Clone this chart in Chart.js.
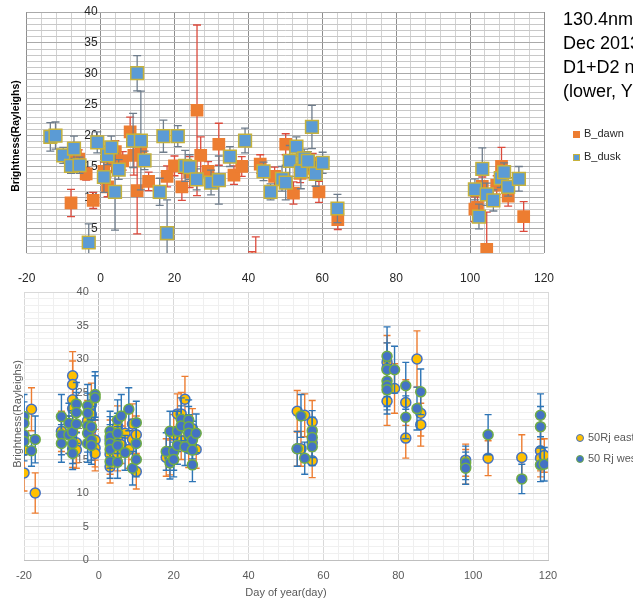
<!DOCTYPE html>
<html>
<head>
<meta charset="utf-8">
<script src="https://cdn.jsdelivr.net/npm/chart.js@4.4.1/dist/chart.umd.min.js"></script>
<style>
  html, body { margin: 0; padding: 0; background: #fff; }
  body { width: 633px; height: 601px; position: relative; overflow: hidden; font-family: "Liberation Sans", Arial, sans-serif; }
  canvas { position: absolute; left: 0; }
  #topChart { top: 0; }
  #bottomChart { top: 280px; }
  .ytitle { position: absolute; transform: translate(-50%, -50%) rotate(-90deg); white-space: nowrap; z-index: 2; }
  #note { position: absolute; left: 563px; top: 7px; font-size: 18px; line-height: 24px; color: #000; white-space: nowrap; z-index: 2; }
  .leg { position: absolute; font-size: 11px; line-height: 13px; white-space: nowrap; z-index: 2; }
  .leg i { display: inline-block; vertical-align: -1px; margin-right: 4px; box-sizing: border-box; }
</style>
</head>
<body>
<canvas id="topChart" width="633" height="290"></canvas>
<canvas id="bottomChart" width="633" height="321"></canvas>

<div class="ytitle" style="left:15px; top:136px; font-size:10.5px; font-weight:bold; color:#000;">Brightness(Rayleighs)</div>
<div class="ytitle" style="left:17px; top:414px; font-size:11px; color:#595959;">Brightness(Rayleighs)</div>

<div id="note">130.4nm<br>Dec 2013<br>D1+D2 n<br>(lower, Y</div>

<div class="leg" style="left:573px; top:127px; color:#262626;"><i style="width:7px;height:7px;background:#ed7d31;"></i>B_dawn</div>
<div class="leg" style="left:573px; top:150px; color:#262626;"><i style="width:7px;height:7px;background:#5b9bd5;border:1px solid #c6b23c;"></i>B_dusk</div>

<div class="leg" style="left:576px; top:431px; color:#595959;"><i style="width:8px;height:8px;border-radius:50%;background:#ffc000;border:1px solid #4472c4;"></i>50Rj east</div>
<div class="leg" style="left:576px; top:452px; color:#595959;"><i style="width:8px;height:8px;border-radius:50%;background:#4472c4;border:1px solid #70ad47;"></i>50 Rj west</div>

<script>
// ---- upper panel: B_dawn / B_dusk (day, brightness, +/- error) ----
const dawnDay = [-8.0, -6.8, -5.9, -3.9, -2.0, 0.9, 1.9, 3.0, 4.0, 6.0, 8.0, 9.0, 9.9, 10.9, 13.0,
  18.0, 20.0, 22.0, 24.1, 26.1, 27.1, 29.1, 32.0, 36.1, 38.2, 41.0, 42.0, 43.2, 47.1, 50.1,
  52.2, 54.0, 55.4, 57.4, 59.1, 64.2, 101.3, 102.0, 103.3, 104.5, 107.2, 108.5, 110.3, 114.5];
const dawnVal = [9.1, 16.8, 16.2, 13.8, 9.5, 14.2, 11.7, 16.0, 17.4, 15.9, 20.6, 16.8, 11.1, 18.2, 12.6,
  13.4, 15.1, 11.7, 14.1, 24.1, 16.8, 14.2, 18.6, 13.6, 15.0, -1.0, 0.0, 15.4, 13.4, 18.6,
  10.7, 13.9, 14.7, 15.5, 10.9, 6.4, 8.1, 8.4, 11.8, 1.6, 12.0, 15.0, 10.2, 6.9];
const dawnErr = [2.2, 1.5, 1.5, 1.0, 1.3, 1.5, 1.6, 2.0, 1.8, 1.5, 2.4, 3.2, 7.0, 1.2, 1.5,
  1.7, 1.6, 2.2, 2.5, 13.8, 3.0, 1.6, 3.4, 1.5, 1.6, 2.2, 3.6, 1.5, 1.5, 1.7,
  1.8, 1.5, 1.5, 1.6, 1.7, 1.6, 2.0, 2.0, 1.5, 6.0, 1.5, 3.1, 1.6, 2.4];

const duskDay = [-13.6, -12.2, -10.1, -8.0, -7.2, -5.7, -3.2, -0.9, 0.9, 1.9, 2.9, 3.9, 4.9, 8.8, 9.9,
  10.9, 11.9, 16.0, 17.0, 18.0, 20.9, 22.9, 24.1, 26.0, 29.9, 32.0, 35.0, 39.1, 44.1, 46.0,
  49.1, 50.1, 51.2, 53.0, 54.2, 55.1, 56.1, 57.2, 58.2, 60.1, 64.1,
  101.3, 102.4, 103.3, 104.5, 106.3, 108.3, 109.2, 110.3, 113.2];
const duskVal = [19.8, 20.0, 16.8, 15.1, 17.9, 15.2, 2.7, 18.9, 13.3, 16.8, 18.1, 10.9, 14.5, 19.2, 30.1,
  19.2, 16.0, 10.9, 19.9, 4.2, 19.9, 15.1, 14.9, 12.9, 12.4, 12.8, 16.6, 19.2, 14.2, 10.9,
  13.0, 12.4, 15.9, 18.2, 14.2, 16.3, 15.9, 21.4, 13.8, 15.6, 8.2,
  11.3, 6.9, 14.6, 10.5, 9.5, 13.1, 14.1, 11.7, 13.0];
const duskErr = [2.3, 2.2, 1.3, 1.2, 2.0, 1.3, 3.0, 1.7, 2.5, 1.5, 1.8, 6.2, 1.6, 4.4, 2.85,
  8.0, 1.5, 2.2, 2.6, 5.4, 1.7, 2.5, 2.0, 1.7, 2.0, 3.9, 1.6, 2.0, 1.5, 1.3,
  2.0, 2.8, 2.5, 1.6, 2.8, 1.5, 1.5, 3.5, 2.0, 1.7, 2.3,
  1.7, 2.0, 3.4, 1.8, 1.7, 1.5, 1.5, 1.5, 2.0];

// ---- lower panel: 50 Rj east / west ----
const eastDay = [-20, -20, -18, -17, -10, -8, -7, -7, -7, -7, -7, -7, -6, -6, -3, -2, -2, -2, -1, -1, -1,
  3, 3, 3, 5, 5, 5, 6, 7, 8, 9, 9, 10, 10, 18, 19, 20, 21, 22, 22, 23, 24, 25, 26,
  53, 53, 54, 55, 57, 57, 57, 77, 77, 77, 79, 82, 82, 85, 86, 86, 98, 98, 104, 113, 118, 118, 119];
const eastVal = [16.4, 13.0, 22.5, 10.0, 19.2, 18.7, 27.5, 26.2, 23.9, 22.6, 20.0, 16.6, 17.5, 16.4, 20.8, 23.2, 21.7, 19.6, 17.9, 16.7, 15.9,
  17.9, 15.8, 13.9, 20.0, 17.9, 15.9, 17.2, 18.9, 16.5, 18.0, 20.3, 18.7, 13.2, 15.3, 15.3, 18.7, 21.8, 21.8, 17.8, 24.0, 16.6, 19.6, 16.5,
  22.2, 16.6, 16.6, 21.6, 20.6, 17.5, 14.8, 29.5, 28.6, 23.7, 25.6, 23.5, 18.2, 30.0, 21.9, 20.2, 13.9, 14.9, 15.2, 15.3, 16.3, 15.2, 15.6];
const eastErr = [3.5, 2.7, 3.2, 3.0, 3.0, 2.8, 3.6, 3.5, 3.2, 3.0, 3.0, 2.8, 3.0, 2.7, 3.0, 3.2, 3.0, 2.8, 3.0, 2.8, 2.6,
  3.0, 3.0, 2.4, 3.0, 2.8, 2.6, 2.8, 3.0, 2.8, 3.0, 3.0, 2.8, 2.6, 2.8, 2.6, 3.0, 3.0, 3.2, 2.8, 3.4, 2.8, 3.0, 2.8,
  3.1, 2.6, 2.6, 3.2, 3.2, 3.0, 2.5, 4.0, 3.8, 3.6, 3.7, 3.4, 3.0, 4.2, 3.4, 3.2, 2.6, 2.4, 2.6, 3.4, 3.0, 2.8, 2.5];

const westDay = [-20, -20, -20, -20, -18, -17, -10, -10, -10, -8, -8, -7, -7, -7, -6, -6, -6,
  -3, -3, -3, -3, -3, -2, -2, -2, -1, -1, 3, 3, 3, 3, 3, 5, 5, 5, 5, 6, 7, 8, 9, 10, 10, 10,
  18, 19, 19, 20, 20, 21, 21, 22, 22, 23, 24, 24, 24, 25, 25, 25, 26,
  53, 54, 55, 57, 57, 57, 77, 77, 77, 77, 77, 79, 82, 82, 85, 86, 98, 98, 104, 113, 118, 118, 118, 119];
const westVal = [21.4, 20.4, 18.7, 17.7, 16.3, 18.0, 21.4, 18.7, 17.4, 20.4, 18.7, 19.1, 17.4, 15.9, 23.3, 22.0, 20.3,
  23.0, 21.9, 20.0, 18.9, 17.4, 19.9, 17.9, 17.1, 24.7, 24.2, 19.2, 18.4, 17.4, 16.5, 14.7, 20.9, 18.9, 17.1, 14.6, 21.5, 16.0, 22.5, 13.7, 20.5, 17.4, 15.0,
  16.2, 19.2, 14.5, 16.2, 15.0, 19.2, 17.1, 21.0, 20.0, 16.9, 20.9, 19.9, 18.9, 17.9, 16.4, 14.2, 18.9,
  16.6, 21.5, 15.2, 19.3, 18.3, 16.9, 30.4, 28.4, 26.7, 26.0, 25.4, 28.4, 26.0, 21.3, 22.6, 25.1, 14.5, 13.7, 18.7, 12.1, 21.6, 19.9, 14.2, 14.3];
const westErr = [3.3, 3.2, 3.0, 2.9, 2.3, 3.5, 3.3, 3.0, 2.8, 3.0, 2.8, 3.2, 3.0, 2.4, 3.2, 3.0, 2.9,
  3.2, 3.0, 3.0, 2.8, 2.8, 3.0, 3.0, 2.8, 3.4, 3.3, 3.0, 3.0, 2.8, 2.8, 2.5, 3.0, 3.0, 2.8, 2.4, 3.2, 2.6, 3.2, 2.5, 3.2, 2.8, 2.6,
  2.8, 3.0, 2.4, 2.8, 2.6, 3.0, 2.8, 3.2, 3.0, 2.8, 3.0, 3.0, 2.8, 2.8, 2.8, 2.5, 2.9,
  2.6, 3.2, 2.4, 3.0, 3.0, 2.8, 4.4, 4.0, 3.8, 3.6, 3.6, 3.5, 3.5, 3.2, 3.2, 3.4, 2.5, 2.4, 3.0, 2.2, 3.2, 3.0, 2.5, 2.5];

const pairs = (xs, ys) => xs.map((x, i) => ({ x: x, y: ys[i] }));
const FONT = '"Liberation Sans", Arial, sans-serif';

// vertical error bars, drawn just before each dataset's markers
const errorBars = {
  id: 'errorBars',
  beforeDatasetDraw(chart, args) {
    const ds = chart.data.datasets[args.index];
    if (!ds.errors) return;
    const ctx = chart.ctx;
    const area = chart.chartArea;
    const xs = chart.scales.x, ys = chart.scales.y;
    ctx.save();
    ctx.beginPath();
    ctx.rect(area.left, area.top, area.right - area.left, area.bottom - area.top);
    ctx.clip();
    ctx.strokeStyle = ds.errorColor;
    ctx.lineWidth = ds.errorWidth;
    const cap = ds.capWidth;
    ds.data.forEach((p, i) => {
      const e = ds.errors[i];
      const x = xs.getPixelForValue(p.x);
      const y1 = ys.getPixelForValue(p.y - e);
      const y2 = ys.getPixelForValue(p.y + e);
      ctx.beginPath();
      ctx.moveTo(x, y1); ctx.lineTo(x, y2);
      ctx.moveTo(x - cap, y1); ctx.lineTo(x + cap, y1);
      ctx.moveTo(x - cap, y2); ctx.lineTo(x + cap, y2);
      ctx.stroke();
    });
    ctx.restore();
  }
};

// upper chart
new Chart(document.getElementById('topChart'), {
  type: 'scatter',
  data: {
    datasets: [
      {
        label: 'B_dusk', data: pairs(duskDay, duskVal), errors: duskErr,
        errorColor: '#6f7d8c', errorWidth: 1.3, capWidth: 4,
        pointStyle: 'rect', pointRadius: 9, backgroundColor: '#5b9bd5',
        borderColor: '#c6b23c', borderWidth: 1.5, order: 0, clip: 0
      },
      {
        label: 'B_dawn', data: pairs(dawnDay, dawnVal), errors: dawnErr,
        errorColor: '#dc4a3c', errorWidth: 1.3, capWidth: 4,
        pointStyle: 'rect', pointRadius: 9, backgroundColor: '#ed7d31',
        borderWidth: 0, order: 1, clip: 0
      }
    ]
  },
  options: {
    responsive: false,
    animation: false,
    events: [],
    layout: { padding: { left: 24.5, right: 89, top: 12, bottom: 0 } },
    plugins: { legend: { display: false }, tooltip: { enabled: false } },
    scales: {
      x: {
        type: 'linear', min: -20, max: 120, position: 'bottom',
        afterFit(s) { s.height = 37; },
        ticks: {
          stepSize: 4, autoSkip: false, maxRotation: 0, padding: 18,
          color: '#262626', font: { size: 12, family: FONT },
          callback: v => (v % 20 === 0 ? v : '')
        },
        grid: {
          drawTicks: false,
          color: c => (c.tick && c.tick.value % 20 === 0 ? '#8e8e8e' : '#d2d2d2')
        },
        border: { display: false }
      },
      y: {
        // labels sit just left of the x = 0 line, like the original
        type: 'linear', min: 1, max: 40, position: { x: -0.8 },
        ticks: {
          stepSize: 1, autoSkip: false, padding: 0,
          color: '#262626', font: { size: 12, family: FONT },
          callback: v => (v % 5 === 0 ? v : '')
        },
        grid: {
          drawTicks: false,
          color: c => (c.tick && c.tick.value % 5 === 0 ? '#aaaaaa' : '#c8c8c8')
        },
        border: { display: false }
      }
    }
  },
  plugins: [errorBars]
});

// lower chart
new Chart(document.getElementById('bottomChart'), {
  type: 'scatter',
  data: {
    datasets: [
      {
        label: '50 Rj west', data: pairs(westDay, westVal), errors: westErr,
        errorColor: '#2e75b6', errorWidth: 1.4, capWidth: 3.5,
        pointStyle: 'circle', pointRadius: 5, backgroundColor: '#4472c4',
        borderColor: '#70ad47', borderWidth: 1.5, order: 0, clip: 0
      },
      {
        label: '50Rj east', data: pairs(eastDay, eastVal), errors: eastErr,
        errorColor: '#ed7d31', errorWidth: 1.4, capWidth: 3.5,
        pointStyle: 'circle', pointRadius: 5, backgroundColor: '#ffc000',
        borderColor: '#4472c4', borderWidth: 1.5, order: 1, clip: 0
      }
    ]
  },
  options: {
    responsive: false,
    animation: false,
    events: [],
    layout: { padding: { left: 24, right: 85, top: 12, bottom: 0 } },
    plugins: { legend: { display: false }, tooltip: { enabled: false } },
    scales: {
      x: {
        type: 'linear', min: -20, max: 120, position: 'bottom',
        afterFit(s) { s.height = 41; },
        title: {
          display: true, text: 'Day of year(day)', color: '#595959',
          font: { size: 11, family: FONT }, padding: { top: 4, bottom: 1.5 }
        },
        ticks: {
          stepSize: 4, autoSkip: false, maxRotation: 0, padding: 9,
          color: '#595959', font: { size: 11, family: FONT },
          callback: v => (v % 20 === 0 ? v : '')
        },
        grid: {
          drawTicks: false,
          color: c => {
            if (!c.tick) return '#efefef';
            if (c.tick.value === 0) return '#bfbfbf';
            return c.tick.value % 20 === 0 ? '#d9d9d9' : '#efefef';
          }
        },
        border: { color: '#bfbfbf' }
      },
      y: {
        type: 'linear', min: 0, max: 40, position: { x: -2.7 },
        ticks: {
          stepSize: 1, autoSkip: false, padding: 0,
          color: '#595959', font: { size: 11, family: FONT },
          callback: v => (v % 5 === 0 ? v : '')
        },
        grid: {
          drawTicks: false,
          color: c => (c.tick && c.tick.value % 5 === 0 ? '#d9d9d9' : '#f0f0f0')
        },
        border: { display: false }
      }
    }
  },
  plugins: [errorBars]
});
</script>
</body>
</html>
